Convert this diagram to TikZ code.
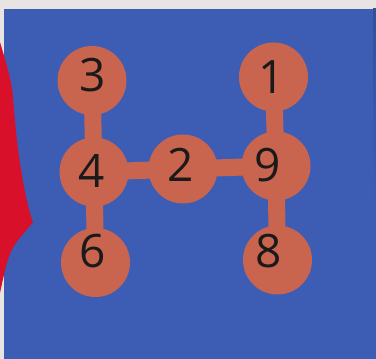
\documentclass[tikz,border=0pt]{standalone}
\usepackage{fontspec}
\newfontfamily\digitfont{Open Sans}
\definecolor{paper}{HTML}{E9E4E4}
\definecolor{boardblue}{HTML}{3D5DB4}
\definecolor{navyedge}{HTML}{33509F}
\definecolor{bead}{HTML}{C9654F}
\definecolor{flag}{HTML}{D8102A}
\definecolor{ink}{HTML}{1A1A1A}
\pgfdeclarelayer{bg}
\pgfdeclarelayer{bars}
\pgfsetlayers{bg,bars,main}
\tikzset{
  bead/.style={circle, fill=bead, draw=none, minimum size=69pt, inner sep=0pt},
  digit/.style={inner sep=0pt, text=ink, font=\digitfont\fontsize{46}{46}\selectfont},
  bar/.style={draw=bead, line width=17pt}
}
\begin{document}
\begin{tikzpicture}[x=1pt,y=1pt]
\useasboundingbox (0,0) rectangle (376,359);
\begin{pgfonlayer}{bg}
  \fill[paper] (0,0) rectangle (376,359);
  \fill[boardblue] (4,0) rectangle (376,350);
  \fill[top color=navyedge, bottom color=boardblue] (373,150) rectangle (376,350);
  \fill[flag] (0,317) .. controls (8,290) and (12,275) .. (13,262)
    .. controls (15,235) and (17,215) .. (20,196)
    .. controls (24,170) and (28,150) .. (33,137)
    .. controls (24,125) and (15,118) .. (10,105)
    .. controls (6,95) and (3,80) .. (0,66) -- cycle;
\end{pgfonlayer}
% beads
\node[bead] (c3) at (92,278.5) {};
\node[bead] (c1) at (273.5,282) {};
\node[bead] (c4) at (94,187) {};
\node[bead] (c2) at (183,190) {};
\node[bead] (c9) at (276,193) {};
\node[bead] (c6) at (95.5,96.5) {};
\node[bead] (c8) at (277.5,99) {};
% digits
\node[digit] (t3) at (93,284) {3};
\node[digit] (t1) at (272,281.5) {1};
\node[digit] (t4) at (92,188) {4};
\node[digit] (t2) at (181,194) {2};
\node[digit] (t9) at (268,193.5) {9};
\node[digit] (t6) at (92.5,108) {6};
\node[digit] (t8) at (268.5,108) {8};
% connectors
\begin{pgfonlayer}{bars}
  \draw[bar] (c3.center) -- (c4.center);
  \draw[bar] (c4.center) -- (c6.center);
  \draw[bar] (c4.center) -- (c2.center);
  \draw[bar] (c2.center) -- (c9.center);
  \draw[bar] (c1.center) -- (c9.center);
  \draw[bar] (c9.center) -- (c8.center);
\end{pgfonlayer}
\end{tikzpicture}
\end{document}
